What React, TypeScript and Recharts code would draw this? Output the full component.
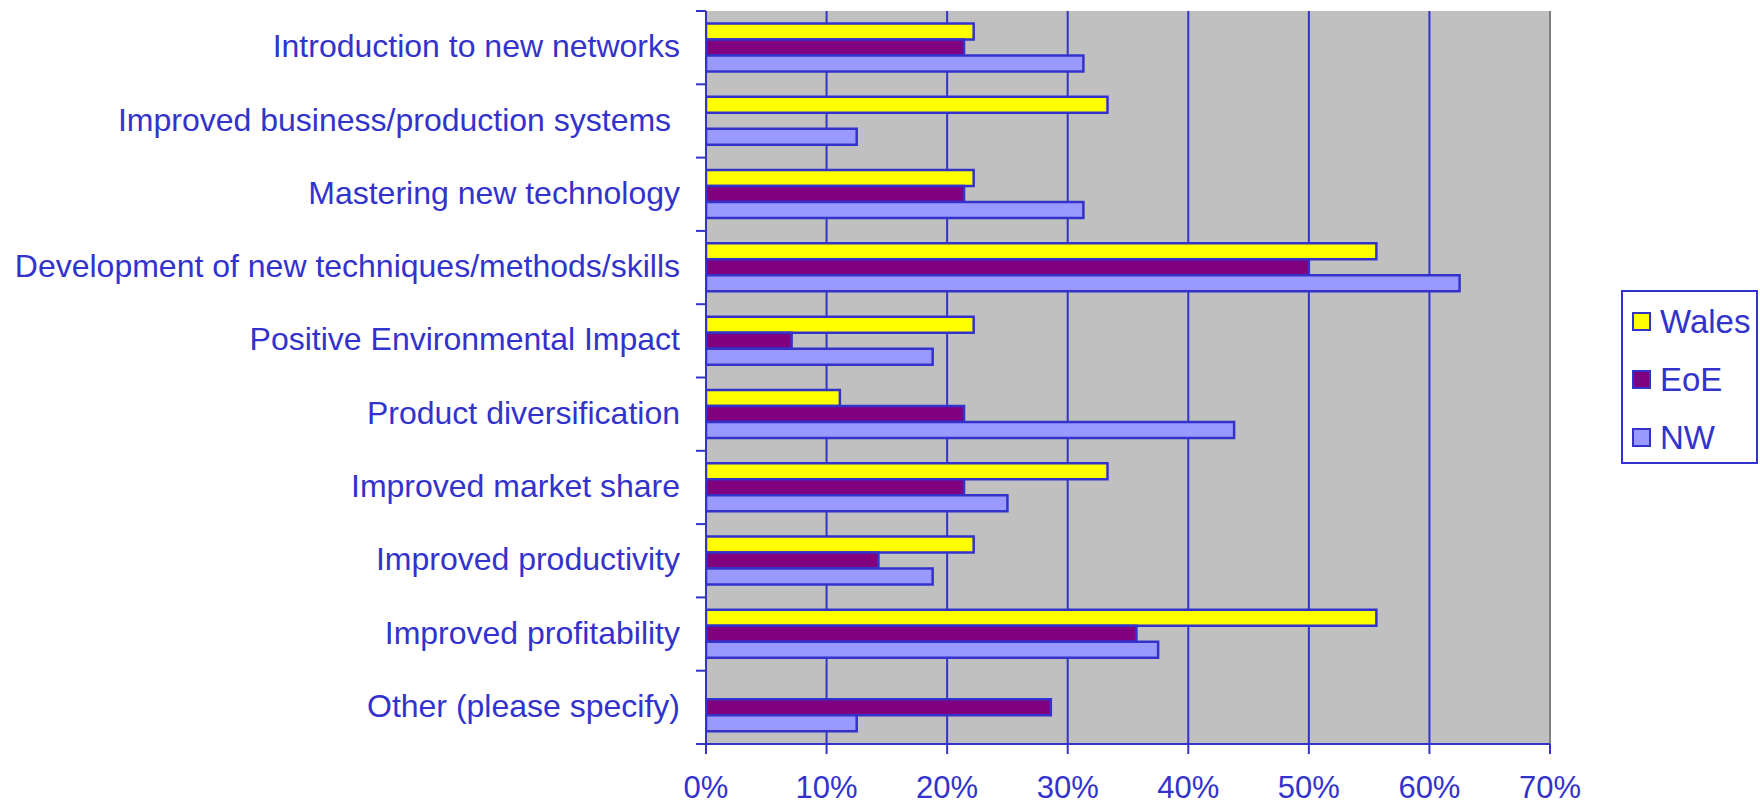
import React from 'react';
import { BarChart, Bar, XAxis, YAxis, CartesianGrid, Legend, ReferenceLine } from 'recharts';

const categories = [
  'Introduction to new networks',
  'Improved business/production systems\u00A0',
  'Mastering new technology',
  'Development of new techniques/methods/skills',
  'Positive Environmental Impact',
  'Product diversification',
  'Improved market share',
  'Improved productivity',
  'Improved profitability',
  'Other (please specify)',
];
const walesValues = [22.2, 33.3, 22.2, 55.6, 22.2, 11.1, 33.3, 22.2, 55.6, 0];
const eoeValues = [21.4, 0, 21.4, 50.0, 7.1, 21.4, 21.4, 14.3, 35.7, 28.6];
const nwValues = [31.3, 12.5, 31.3, 62.5, 18.8, 43.8, 25.0, 18.8, 37.5, 12.5];
const xTicks = [0, 10, 20, 30, 40, 50, 60, 70];
const seriesOrder = ['Wales', 'EoE', 'NW'];

const BLUE = '#3333cc';
const FONT = '"Liberation Sans", Arial, sans-serif';

const data = categories.map((name, i) => ({
  name,
  Wales: walesValues[i],
  EoE: eoeValues[i],
  NW: nwValues[i],
}));

// label text + tick marks at the band edges (ticks sit between categories in the original)
const CategoryTick = (props: any) => {
  const { x, y, payload, index, visibleTicksCount } = props;
  const half = payload?.offset ?? 0;
  const axisX = x + 26;
  const isLast = index === visibleTicksCount - 1;
  return (
    <g>
      <line x1={axisX - 10} x2={axisX} y1={y - half} y2={y - half} stroke={BLUE} strokeWidth={2} />
      {isLast && <line x1={axisX - 10} x2={axisX} y1={y + half} y2={y + half} stroke={BLUE} strokeWidth={2} />}
      <text x={x} y={y} dy="0.3em" textAnchor="end" fill={BLUE} fontSize={32} fontFamily={FONT}>
        {payload.value}
      </text>
    </g>
  );
};

const renderLegend = (props: any) => {
  const payload = [...(props.payload || [])].sort(
    (a: any, b: any) => seriesOrder.indexOf(a.value) - seriesOrder.indexOf(b.value)
  );
  return (
    <div style={{ width: 137, height: 174, border: `2px solid ${BLUE}`, boxSizing: 'border-box', background: '#fff', fontFamily: FONT }}>
      {payload.map((entry: any) => (
        <div key={entry.value} style={{ height: 58, display: 'flex', alignItems: 'center' }}>
          <span style={{ display: 'inline-block', width: 19, height: 19, marginLeft: 9, boxSizing: 'border-box', border: `2px solid ${BLUE}`, background: entry.payload?.fill ?? entry.color }} />
          <span style={{ marginLeft: 9, fontSize: 33, color: BLUE, lineHeight: '33px' }}>{entry.value}</span>
        </div>
      ))}
    </div>
  );
};

export default function App() {
  return (
    <div style={{ width: 1760, height: 806, background: '#fff' }}>
      <style>{'body { margin: 0; }'}</style>
      <BarChart
        width={1760}
        height={806}
        data={data}
        layout="vertical"
        margin={{ top: 11, right: 210, bottom: 0, left: 0 }}
        barCategoryGap="17%"
        barGap={0}
      >
        <CartesianGrid horizontal={false} vertical stroke={BLUE} strokeWidth={2} fill="#c0c0c0" fillOpacity={1} />
        <XAxis
          type="number"
          domain={[0, 70]}
          ticks={xTicks}
          allowDataOverflow
          tickFormatter={(v) => `${v}%`}
          height={62}
          axisLine={{ stroke: BLUE, strokeWidth: 2 }}
          tickLine={{ stroke: BLUE, strokeWidth: 2 }}
          tickSize={10}
          tickMargin={22}
          tick={{ fill: BLUE, fontSize: 31, fontFamily: FONT }}
        />
        <XAxis
          xAxisId="top"
          orientation="top"
          type="number"
          domain={[0, 70]}
          allowDataOverflow
          height={0}
          tick={false}
          tickLine={false}
          axisLine={{ stroke: '#808080', strokeWidth: 2 }}
        />
        <YAxis
          type="category"
          dataKey="name"
          width={706}
          interval={0}
          tickSize={0}
          tickMargin={26}
          tickLine={false}
          axisLine={{ stroke: BLUE, strokeWidth: 2 }}
          tick={<CategoryTick />}
        />
        <Bar dataKey="Wales" fill="#ffff00" stroke={BLUE} strokeWidth={2.5} isAnimationActive={false} />
        <Bar dataKey="EoE" fill="#800080" stroke={BLUE} strokeWidth={2.5} isAnimationActive={false} />
        <Bar dataKey="NW" fill="#9999ff" stroke={BLUE} strokeWidth={2.5} isAnimationActive={false} />
        <ReferenceLine x={70} stroke="#808080" strokeWidth={2} />
        <Legend
          layout="vertical"
          align="center"
          verticalAlign="middle"
          itemSorter={null as any}
          content={renderLegend}
          wrapperStyle={{ left: 1621, top: 290, width: 137, height: 174 }}
        />
      </BarChart>
    </div>
  );
}
